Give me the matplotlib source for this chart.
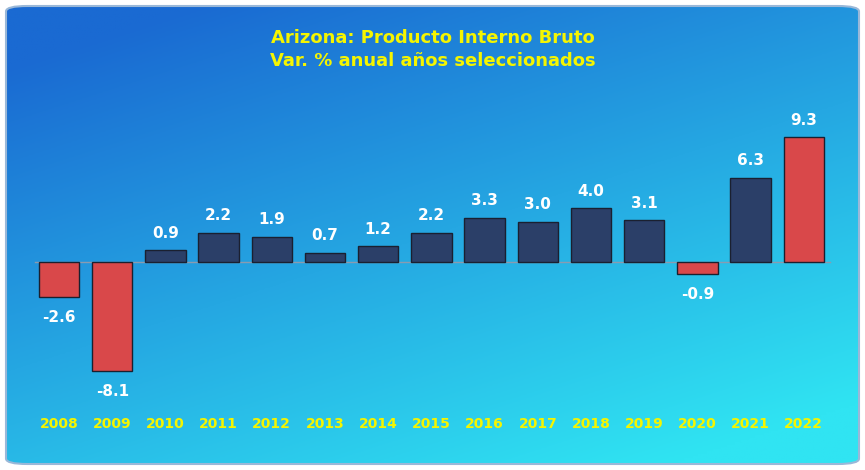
import matplotlib
matplotlib.use("Agg")
import matplotlib.pyplot as plt
import numpy as np
from matplotlib.patches import FancyBboxPatch

years = ["2008", "2009", "2010", "2011", "2012", "2013", "2014", "2015",
         "2016", "2017", "2018", "2019", "2020", "2021", "2022"]
values = [-2.6, -8.1, 0.9, 2.2, 1.9, 0.7, 1.2, 2.2, 3.3, 3.0, 4.0, 3.1, -0.9, 6.3, 9.3]
title = "Arizona: Producto Interno Bruto\nVar. % anual años seleccionados"

navy = "#2b3f68"
red = "#d9484a"

fig = plt.figure(figsize=(8.65, 4.70), dpi=100)
fig.patch.set_facecolor("white")
ax = fig.add_axes([0, 0, 1, 1])

# pixel mapping: zero line at y=262, 13.4 px per unit, bar 0 at x=59, step 53.2
ax.set_xlim(-59 / 53.2, (865 - 59) / 53.2)
ax.set_ylim(-(470 - 262) / 13.4, 262 / 13.4)
ax.axis("off")

# background gradient: blue at top, cyan towards bottom right
xx, yy = np.meshgrid(np.linspace(0, 1, 300), np.linspace(0, 1, 200))
t = np.clip(0.45 * xx + 0.75 * yy - 0.1, 0, 1)
c0 = np.array([0x1a, 0x6a, 0xd2]) / 255
c1 = np.array([0x30, 0xe4, 0xf2]) / 255
img = c0[None, None, :] * (1 - t[..., None]) + c1[None, None, :] * t[..., None]
x0, x1 = ax.get_xlim()
y0, y1 = ax.get_ylim()
pad_x = 6 / 53.2
pad_y = 6 / 13.4
bg = ax.imshow(img, extent=[x0 + pad_x, x1 - pad_x, y0 + pad_y, y1 - pad_y],
               origin="upper", aspect="auto", zorder=0)
clip = FancyBboxPatch((x0 + pad_x, y0 + pad_y), (x1 - x0) - 2 * pad_x, (y1 - y0) - 2 * pad_y,
                      boxstyle="round,pad=0,rounding_size=0.4", transform=ax.transData,
                      facecolor="none", edgecolor="#9ab8d8", linewidth=1.5, zorder=5)
ax.add_patch(clip)
bg.set_clip_path(clip)

ax.plot([-0.45, 14.5], [0, 0], color="#8a9bb0", linewidth=1, zorder=1)

colors = [red if (v < 0 or y == "2022") else navy for v, y in zip(values, years)]
x = np.arange(len(years))
ax.bar(x, values, width=0.76, color=colors, edgecolor="#1a2030", linewidth=1, zorder=2)

for xi, v in zip(x, values):
    off = 0.7 if v >= 0 else -1.0
    ax.text(xi, v + off, f"{v:.1f}", ha="center", va="bottom" if v >= 0 else "top",
            color="white", fontsize=11, fontweight="bold", zorder=3)
    ax.text(xi, -(424 - 262) / 13.4, years[xi], ha="center", va="center",
            color="#f5f500", fontsize=10, fontweight="bold", zorder=3)

fig.text(0.5, 0.895, title, ha="center", va="center", color="#f5f500",
         fontsize=13, fontweight="bold", linespacing=1.4)

fig.savefig("out.png", dpi=100)
